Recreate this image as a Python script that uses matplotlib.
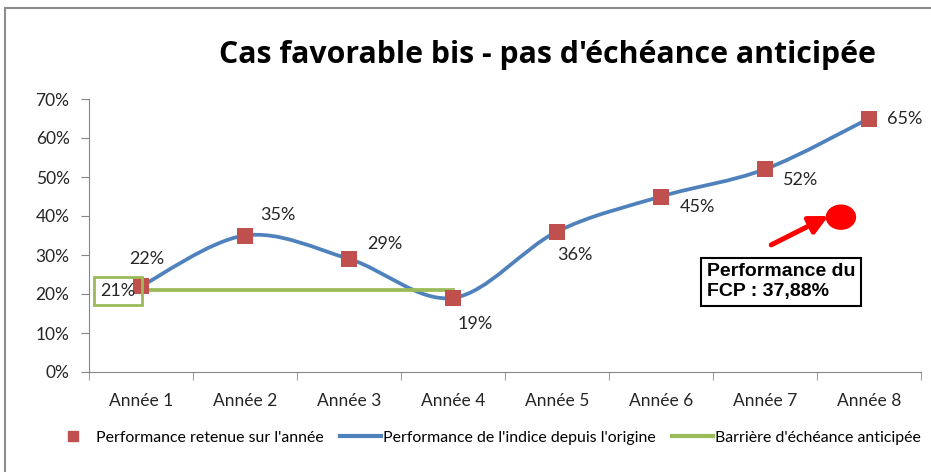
import matplotlib
matplotlib.use("Agg")
import matplotlib.pyplot as plt
import numpy as np
from matplotlib.path import Path
from matplotlib.patches import PathPatch, Ellipse, Rectangle
from matplotlib.lines import Line2D

# data
annees = ["Année 1", "Année 2", "Année 3", "Année 4", "Année 5", "Année 6", "Année 7", "Année 8"]
perf = [0.22, 0.35, 0.29, 0.19, 0.36, 0.45, 0.52, 0.65]
barriere = 0.21
barriere_fin = 3  # index of Année 4
fcp_label = "Performance du\nFCP : 37,88%"
fcp_point = (6.73, 0.397)

blue = "#4F81BD"
red = "#C0504D"
green = "#9BBB59"
gray = "#868686"
lab_font = ["Lato", "DejaVu Sans"]

fig = plt.figure(figsize=(9.31, 4.72), dpi=100)
ax = fig.add_axes([89/931, 1 - 372/472, (921-89)/931, (372-99)/472])

x = np.arange(len(perf))
y = np.array(perf)

# smoothed line, excel-like bezier through the points
verts = [(x[0], y[0])]
codes = [Path.MOVETO]
n = len(x)
for i in range(n - 1):
    p0 = np.array([x[max(i-1, 0)], y[max(i-1, 0)]])
    p1 = np.array([x[i], y[i]])
    p2 = np.array([x[i+1], y[i+1]])
    p3 = np.array([x[min(i+2, n-1)], y[min(i+2, n-1)]])
    c1 = p1 + (p2 - p0) / 6
    c2 = p2 - (p3 - p1) / 6
    verts += [tuple(c1), tuple(c2), tuple(p2)]
    codes += [Path.CURVE4] * 3
ax.add_patch(PathPatch(Path(verts, codes), fc="none", ec=blue, lw=2.7, zorder=2))

ax.plot([x[0], x[barriere_fin]], [barriere, barriere], color=green, lw=2.7, zorder=2)
ax.scatter(x, y, marker="s", s=135, color=red, zorder=3, linewidths=0)

# data labels
offsets = [(6, 27), (33, 21), (36, 15), (22, -26), (18, -23), (36, -10), (36, -11), (36, 0)]
for xi, yi, (dx, dy) in zip(x, y, offsets):
    ax.annotate(f"{yi*100:.0f}%", (xi, yi), xytext=(dx, dy), textcoords="offset pixels",
                ha="center", va="center", fontsize=13, family=lab_font, color="#262626", zorder=4)

ax.annotate(f"{barriere*100:.0f}%", (x[0], barriere), xytext=(-23, -1), textcoords="offset pixels",
            ha="center", va="center", fontsize=13, family=lab_font, color="#262626", zorder=5,
            bbox=dict(boxstyle="square,pad=0.33", fc="none", ec=green, lw=2))

# FCP annotation
ax.add_patch(Ellipse(fcp_point, 0.279, 0.0615, color="red", zorder=4))
ax.annotate("", xy=(6.61, 0.40), xytext=(6.06, 0.326),
            arrowprops=dict(arrowstyle="-|>,head_length=1.1,head_width=0.55", color="red", lw=3.6,
                            shrinkA=0, shrinkB=0),
            zorder=4)
ax.text(5.44, 0.2315, fcp_label, ha="left", va="center", fontsize=14, fontweight="bold",
        family=["Liberation Sans", "DejaVu Sans"], linespacing=1.2, zorder=5,
        bbox=dict(boxstyle="square,pad=0.3", fc="white", ec="black", lw=1.5))

ax.set_xlim(-0.5, len(perf) - 0.5)
ax.set_ylim(0, 0.70)
ax.set_yticks(np.arange(0, 0.71, 0.1))
ax.set_yticklabels([f"{v*10:.0f}%" for v in range(8)])
ax.set_xticks(x)
ax.set_xticklabels(annees)
ax.set_xticks(np.arange(-0.5, len(perf)), minor=True)
ax.tick_params(axis="x", which="major", length=0, pad=15)
ax.tick_params(axis="x", which="minor", length=6, color=gray)
ax.tick_params(axis="y", length=6, color=gray, pad=8)
for lab in ax.get_xticklabels() + ax.get_yticklabels():
    lab.set_fontsize(12.5)
    lab.set_family(lab_font)
    lab.set_color("#262626")
for s in ["top", "right"]:
    ax.spines[s].set_visible(False)
for s in ["left", "bottom"]:
    ax.spines[s].set_color(gray)

fig.text(547/931, 1 - 55/472, "Cas favorable bis - pas d'échéance anticipée", ha="center", va="center",
         fontsize=21.8, fontweight="bold", family=["Open Sans", "DejaVu Sans"])

handles = [
    Line2D([], [], marker="s", ls="none", color=red, markersize=7),
    Line2D([], [], color=blue, lw=3),
    Line2D([], [], color=green, lw=3),
]
labels = ["Performance retenue sur l'année", "Performance de l'indice depuis l'origine",
          "Barrière d'échéance anticipée"]
fig.legend(handles, labels, loc="center", bbox_to_anchor=(487/931, 1 - 438/472), ncol=3,
           frameon=False, prop={"family": lab_font, "size": 11.4}, handlelength=2.6,
           handletextpad=0.15, columnspacing=1.0, borderpad=0, borderaxespad=0)

# chart frame
fig.add_artist(Rectangle((5/931, -0.1), 1.2, 1 - 8/472 + 0.1, transform=fig.transFigure,
                         fill=False, ec="#8c8c8c", lw=1.5))

fig.savefig("out.png", dpi=100)
